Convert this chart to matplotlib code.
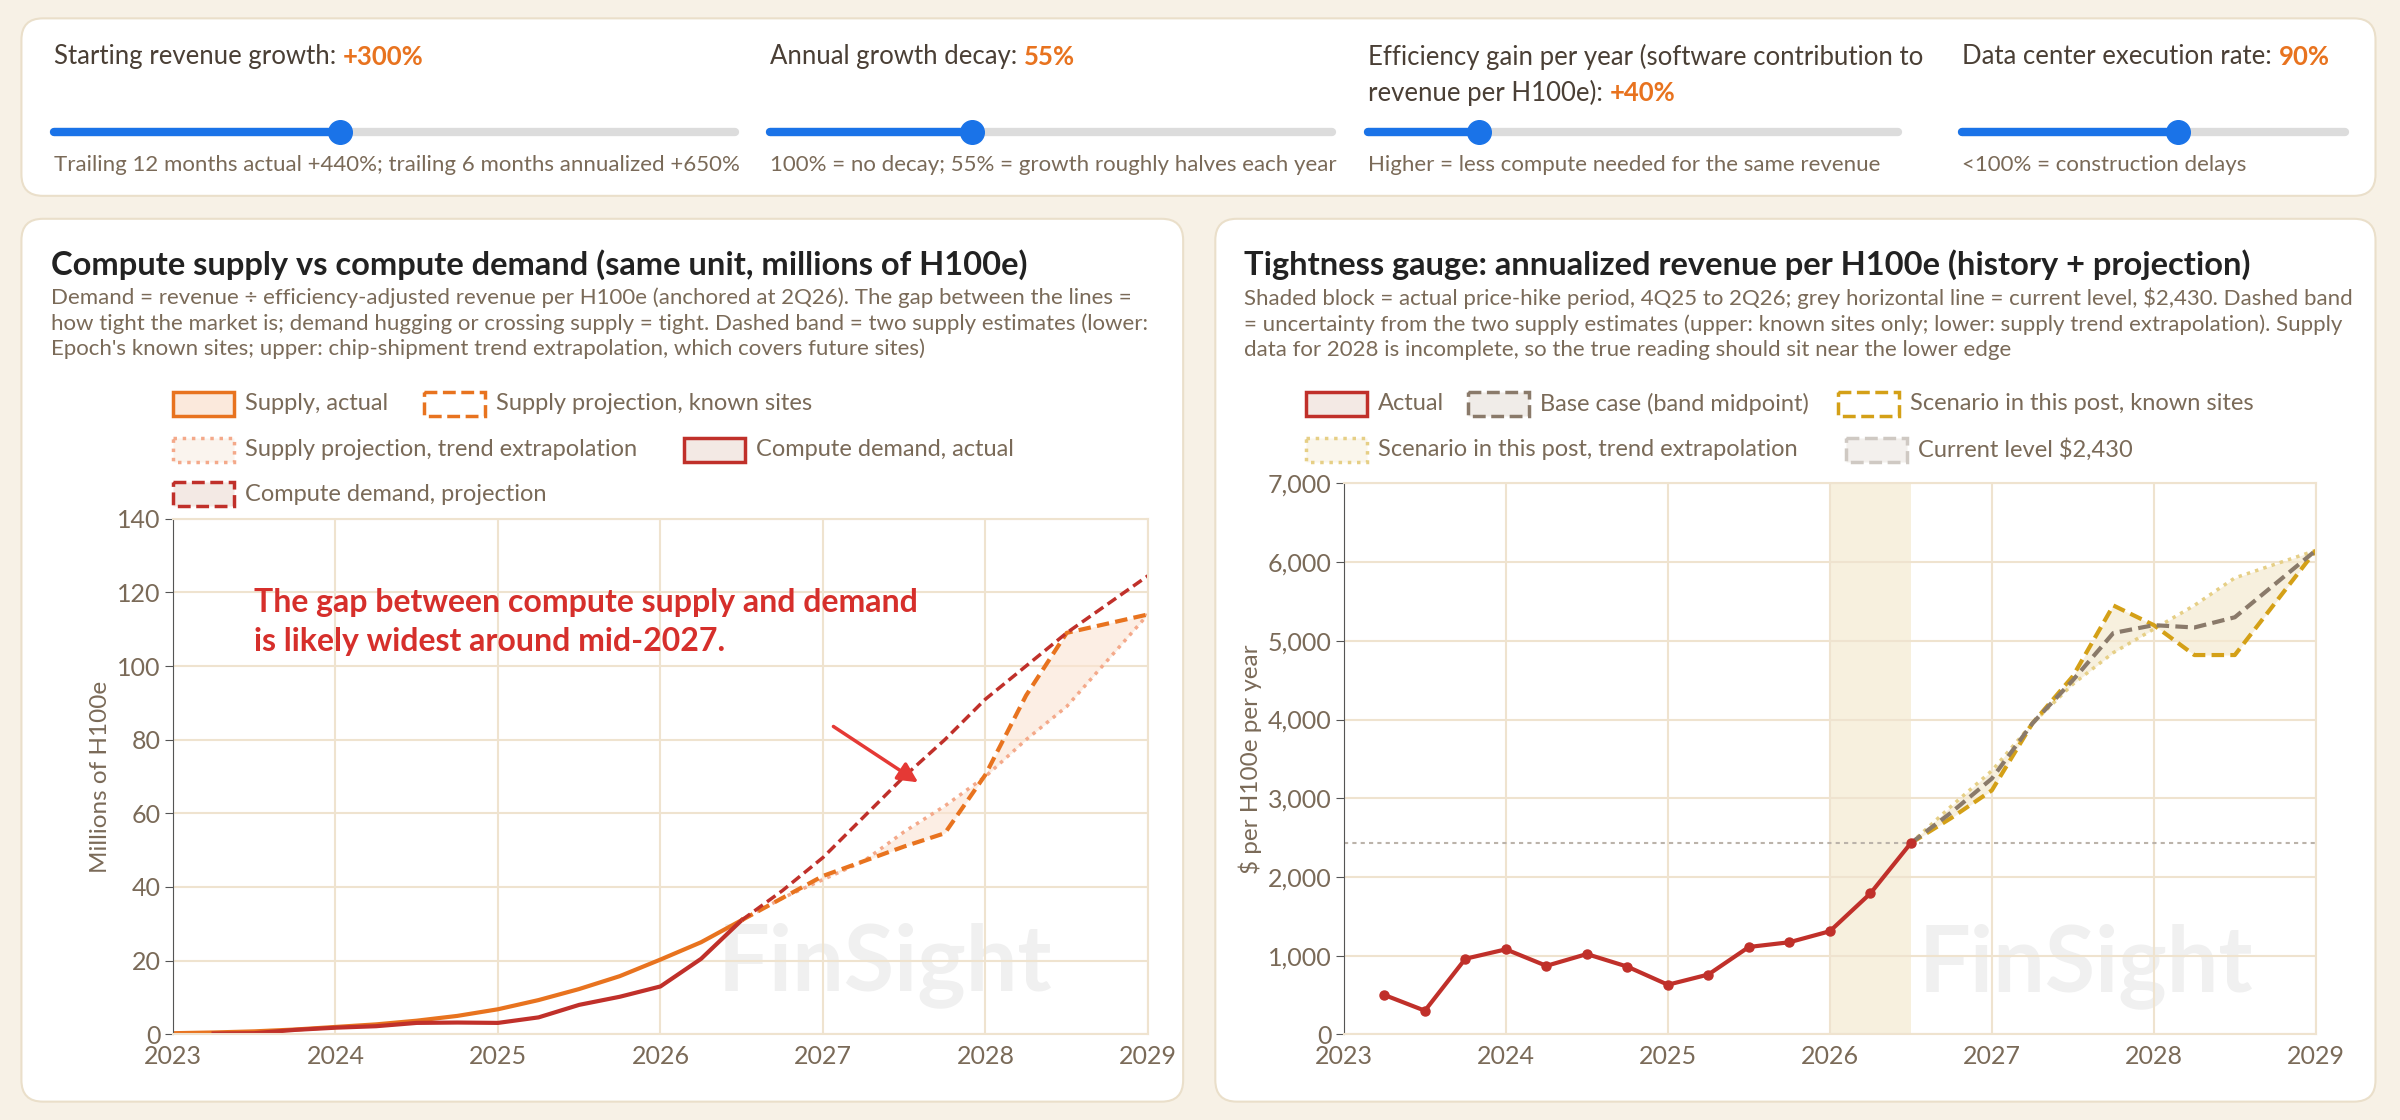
import matplotlib
matplotlib.use("Agg")
import matplotlib.pyplot as plt
from matplotlib.patches import FancyBboxPatch, Rectangle
import numpy as np

plt.rcParams['font.family'] = ['Lato', 'DejaVu Sans']

# ---------------- data ----------------
supply_x = [2023.0, 2023.25, 2023.5, 2023.75, 2024.0, 2024.25, 2024.5, 2024.75, 2025.0, 2025.25, 2025.5, 2025.75, 2026.0, 2026.25, 2026.5]
supply_y = [0.3, 0.5, 0.8, 1.3, 2.0, 2.7, 3.7, 5.0, 6.8, 9.3, 12.3, 15.8, 20.3, 25.0, 31.0]
demand_x = [2023.25, 2023.5, 2023.75, 2024.0, 2024.25, 2024.5, 2024.75, 2025.0, 2025.25, 2025.5, 2025.75, 2026.0, 2026.25, 2026.5]
demand_y = [0.2, 0.3, 1.2, 1.8, 2.2, 3.1, 3.2, 3.1, 4.6, 8.0, 10.2, 13.0, 20.5, 31.0]
proj_x = [2026.5, 2026.75, 2027.0, 2027.25, 2027.5, 2027.75, 2028.0, 2028.25, 2028.5, 2029.0]
demand_proj = [31, 39, 48, 59, 70, 80, 91, 100, 109, 124.5]
supply_known = [31, 37, 43, 47, 51, 54.6, 70.5, 92, 109, 114]
supply_trend = [31, 37, 42, 47, 55, 62, 70, 80, 89, 114]

rev_x = [2023.25, 2023.5, 2023.75, 2024.0, 2024.25, 2024.5, 2024.75, 2025.0, 2025.25, 2025.5, 2025.75, 2026.0, 2026.25, 2026.5]
rev_y = [500, 300, 960, 1080, 870, 1020, 860, 630, 760, 1110, 1170, 1310, 1790, 2430]
rev_base = [2430, 2820, 3250, 3950, 4500, 5100, 5200, 5170, 5300, 6150]
rev_known = [2430, 2750, 3100, 3950, 4550, 5450, 5200, 4820, 4820, 6150]
rev_trend = [2430, 2900, 3350, 3950, 4450, 4850, 5150, 5450, 5800, 6150]
current_level = 2430
years = [2023, 2024, 2025, 2026, 2027, 2028, 2029]

BG = '#f7f1e6'
TXT = '#7a6a58'
ORANGE = '#e8731f'
RED = '#c0302a'
GRID = '#efe3cf'

W, H = 1568, 732
fig = plt.figure(figsize=(24, 11.2), dpi=100, facecolor=BG)
deco = fig.add_axes([0, 0, 1, 1])
deco.set_xlim(0, W); deco.set_ylim(H, 0); deco.axis('off')

def panel(x0, y0, x1, y1):
    deco.add_patch(FancyBboxPatch((x0, y0), x1 - x0, y1 - y0, boxstyle="round,pad=0,rounding_size=14",
                                  fc='white', ec='#eadfca', lw=1.5))
panel(14, 12, 1552, 128)
panel(14, 143, 773, 720)
panel(794, 143, 1552, 720)

def xend(t):
    fig.canvas.draw()
    return t.get_window_extent().x1 / fig.dpi / 24 * W

sliders = [
    (35, 480, 222, "Starting revenue growth: ", "+300%", "Trailing 12 months actual +440%; trailing 6 months annualized +650%", None),
    (503, 870, 635, "Annual growth decay: ", "55%", "100% = no decay; 55% = growth roughly halves each year", None),
    (894, 1240, 966, "Efficiency gain per year (software contribution to", "+40%", "Higher = less compute needed for the same revenue", "revenue per H100e): "),
    (1282, 1532, 1423, "Data center execution rate: ", "90%", "<100% = construction delays", None),
]
for x0, x1, k, lab, val, sub, lab2 in sliders:
    deco.plot([x0, x1], [86, 86], color='#dcdcdc', lw=6, solid_capstyle='round')
    deco.plot([x0, k], [86, 86], color='#1a73e8', lw=6, solid_capstyle='round')
    deco.plot([k], [86], 'o', ms=17, color='#1a73e8')
    t = deco.text(x0, 37, lab, fontsize=18.5, color='#4a3f35', va='center')
    ty = 37
    if lab2 is not None:
        t = deco.text(x0, 61, lab2, fontsize=18.5, color='#4a3f35', va='center')
        ty = 61
    deco.text(xend(t), ty, val, fontsize=18.5, color=ORANGE, fontweight='bold', va='center')
    deco.text(x0, 108, sub, fontsize=16, color=TXT, va='center')

deco.text(33, 173, "Compute supply vs compute demand (same unit, millions of H100e)", fontsize=23.5,
          fontweight='bold', color='#222222', va='center')
deco.text(33, 188, "Demand = revenue ÷ efficiency-adjusted revenue per H100e (anchored at 2Q26). The gap between the lines =\n"
          "how tight the market is; demand hugging or crossing supply = tight. Dashed band = two supply estimates (lower:\n"
          "Epoch's known sites; upper: chip-shipment trend extrapolation, which covers future sites)",
          fontsize=16, color=TXT, va='top', linespacing=1.3)
deco.text(813, 173, "Tightness gauge: annualized revenue per H100e (history + projection)", fontsize=23.5,
          fontweight='bold', color='#222222', va='center')
deco.text(813, 188, "Shaded block = actual price-hike period, 4Q25 to 2Q26; grey horizontal line = current level, $2,430. Dashed band\n"
          "= uncertainty from the two supply estimates (upper: known sites only; lower: supply trend extrapolation). Supply\n"
          "data for 2028 is incomplete, so the true reading should sit near the lower edge",
          fontsize=16, color=TXT, va='top', linespacing=1.3)

def legend_item(x, y, fc, ec, ls, label):
    deco.add_patch(Rectangle((x, y - 8), 40, 16, fc=fc, ec=ec, lw=2.5, ls=ls))
    deco.text(x + 47, y, label, fontsize=17, color=TXT, va='center')

legend_item(113, 264, '#fbe9dc', ORANGE, '-', "Supply, actual")
legend_item(277, 264, 'white', ORANGE, '--', "Supply projection, known sites")
legend_item(113, 294, '#faf4ee', '#f4a98a', ':', "Supply projection, trend extrapolation")
legend_item(447, 294, '#f3e9e4', RED, '-', "Compute demand, actual")
legend_item(113, 323, '#f3e9e4', RED, '--', "Compute demand, projection")

legend_item(853, 264, '#f3e9e4', RED, '-', "Actual")
legend_item(959, 264, '#f0ece8', '#8a7a6a', '--', "Base case (band midpoint)")
legend_item(1201, 264, 'white', '#d4a017', '--', "Scenario in this post, known sites")
legend_item(853, 294, '#faf6ec', '#e6cf86', ':', "Scenario in this post, trend extrapolation")
legend_item(1206, 294, '#f3f0ed', '#cfc9c3', '--', "Current level $2,430")

def fx(x): return x / W
def fy(y): return 1 - y / H

def style(ax):
    ax.set_facecolor('none')
    ax.grid(True, color=GRID, lw=1.5)
    for s in ['top', 'right', 'bottom']:
        ax.spines[s].set_color(GRID); ax.spines[s].set_linewidth(1.5)
    ax.spines['left'].set_color('#555555')
    ax.tick_params(colors=TXT, labelsize=18, length=0)
    ax.tick_params(axis='x', pad=8)
    ax.tick_params(axis='y', length=6, color='#555555', pad=3)
    ax.set_xlim(2023, 2029)
    ax.set_xticks(years)
    ax.set_axisbelow(True)

# ---------- left chart ----------
ax1 = fig.add_axes([fx(113), fy(676), fx(750 - 113), (676 - 339) / H])
style(ax1)
ax1.set_ylim(0, 140)
ax1.set_yticks(range(0, 141, 20))
ax1.set_ylabel("Millions of H100e", fontsize=17.5, color=TXT)
ax1.text(2026.35, 12, "FinSight", fontsize=66, fontweight='bold', color='#e6e6e6', alpha=0.6, zorder=0)
ax1.fill_between(proj_x, supply_known, supply_trend, color='#fbe3d2', alpha=0.6, lw=0)
ax1.plot(supply_x, supply_y, color=ORANGE, lw=3)
ax1.plot(demand_x, demand_y, color=RED, lw=3)
ax1.plot(proj_x, supply_trend, color='#f4a98a', lw=2.5, ls=(0, (1, 1.5)))
ax1.plot(proj_x, supply_known, color=ORANGE, lw=3, ls=(0, (3, 1.5)))
ax1.plot(proj_x, demand_proj, color=RED, lw=2.5, ls=(0, (3, 1.5)))
ax1.text(2023.5, 112, "The gap between compute supply and demand\nis likely widest around mid-2027.",
         fontsize=23, fontweight='bold', color='#d62f2b', va='center', linespacing=1.4)
ax1.annotate("", xy=(2027.6, 68), xytext=(2027.05, 84),
             arrowprops=dict(arrowstyle='-|>,head_length=1.2,head_width=0.6', color='#e53935', lw=2.5))

# ---------- right chart ----------
ax2 = fig.add_axes([fx(878), fy(676), fx(1513 - 878), (676 - 316) / H])
style(ax2)
ax2.set_ylim(0, 7000)
ax2.set_yticks(range(0, 7001, 1000))
ax2.set_yticklabels([f"{v:,}" for v in range(0, 7001, 1000)])
ax2.set_ylabel("$ per H100e per year", fontsize=17.5, color=TXT)
ax2.text(2026.55, 550, "FinSight", fontsize=66, fontweight='bold', color='#e6e6e6', alpha=0.6, zorder=0)
ax2.axvspan(2026.0, 2026.5, color='#f5ead0', alpha=0.7, lw=0, zorder=0.5)
ax2.axhline(current_level, color='#bbb3aa', lw=1.5, ls=(0, (2, 2)))
ax2.fill_between(proj_x, rev_known, rev_trend, color='#f5ead0', alpha=0.7, lw=0)
ax2.plot(proj_x, rev_trend, color='#e6cf86', lw=2.5, ls=(0, (1, 1.5)))
ax2.plot(proj_x, rev_known, color='#d4a017', lw=3, ls=(0, (3, 1.5)))
ax2.plot(proj_x, rev_base, color='#8a7a6a', lw=3, ls=(0, (3, 1.5)))
ax2.plot(rev_x, rev_y, color=RED, lw=3, marker='o', ms=6.5)

fig.savefig("out.png", dpi=100, facecolor=BG)
